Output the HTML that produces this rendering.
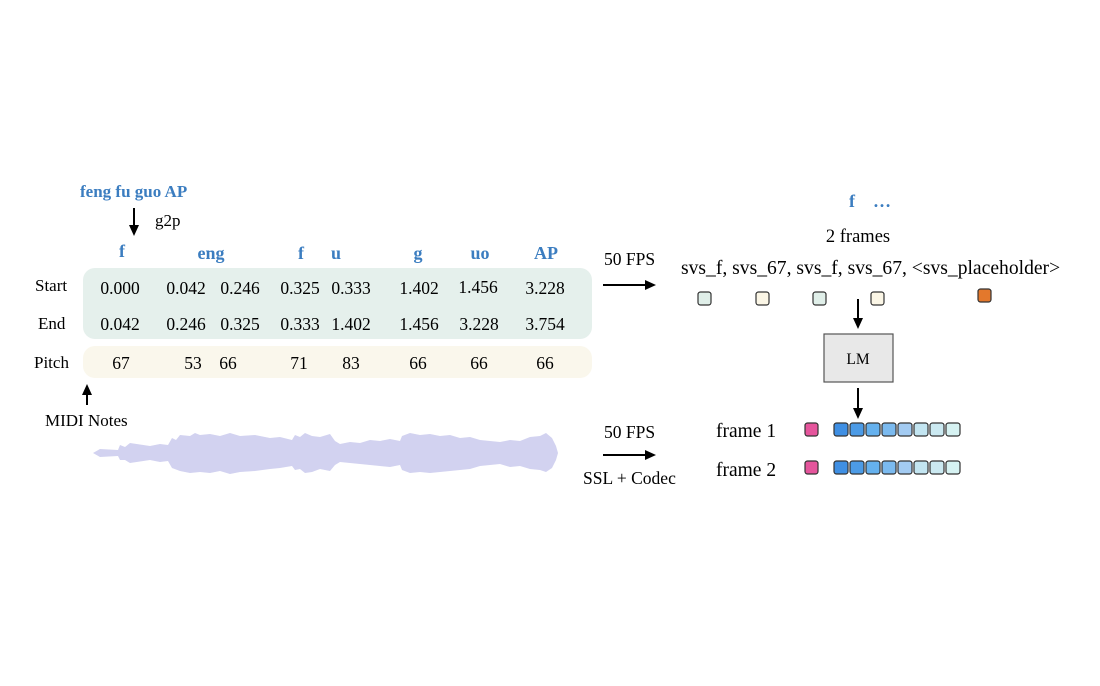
<!DOCTYPE html>
<html><head><meta charset="utf-8"><style>
html,body{margin:0;padding:0;background:#fff;}
svg{display:block;}
text{font-family:"Liberation Serif",serif;}
</style></head><body>
<svg width="1100" height="686" viewBox="0 0 1100 686" xmlns="http://www.w3.org/2000/svg">
<defs>
<marker id="ah" markerWidth="11" markerHeight="10" refX="8" refY="5" orient="auto" markerUnits="userSpaceOnUse">
<path d="M0,0 L11,5 L0,10 z" fill="#000"/></marker>
</defs>
<rect width="1100" height="686" fill="#fff"/>

<text x="80" y="197" font-size="17" font-weight="bold" fill="#3b7dc0">feng fu guo AP</text>
<line x1="134" y1="208" x2="134" y2="233" stroke="#000" stroke-width="2" marker-end="url(#ah)"/>
<text x="155" y="226" font-size="17">g2p</text>

<g font-size="18" font-weight="bold" fill="#3b7dc0" text-anchor="middle">
<text x="122" y="257">f</text><text x="211" y="259">eng</text><text x="301" y="259">f</text>
<text x="336" y="259">u</text><text x="418" y="259">g</text><text x="480" y="259">uo</text><text x="546" y="259">AP</text>
</g>

<rect x="83" y="268" width="509" height="71" rx="12" fill="#e5f0ec"/>
<rect x="83" y="346" width="509" height="32" rx="12" fill="#faf7ec"/>

<g font-size="17">
<text x="35" y="291">Start</text><text x="38" y="329">End</text><text x="34" y="368">Pitch</text>
</g>
<g font-size="17.5" text-anchor="middle">
<text x="120" y="294">0.000</text><text x="186" y="294">0.042</text><text x="240" y="294">0.246</text>
<text x="300" y="294">0.325</text><text x="351" y="294">0.333</text><text x="419" y="294">1.402</text>
<text x="478" y="293">1.456</text><text x="545" y="294">3.228</text>
<text x="120" y="330">0.042</text><text x="186" y="330">0.246</text><text x="240" y="330">0.325</text>
<text x="300" y="330">0.333</text><text x="351" y="330">1.402</text><text x="419" y="330">1.456</text>
<text x="479" y="330">3.228</text><text x="545" y="330">3.754</text>
<text x="121" y="369">67</text><text x="193" y="369">53</text><text x="228" y="369">66</text>
<text x="299" y="369">71</text><text x="351" y="369">83</text><text x="418" y="369">66</text>
<text x="479" y="369">66</text><text x="545" y="369">66</text>
</g>

<line x1="87" y1="405" x2="87" y2="387" stroke="#000" stroke-width="2" marker-end="url(#ah)"/>
<text x="45" y="426" font-size="17">MIDI Notes</text>

<path fill="#d2d2f0" d="M93,453 L100,449 L118,450 L120,445 L125,447 L130,443 L150,446 L160,444 L168,445 L172,438 L176,440 L180,435 L190,436 L195,433 L200,435 L210,434 L220,436 L230,433 L240,436 L255,435 L270,438 L280,437 L292,440 L295,435 L300,437 L305,433 L312,436 L320,437 L330,434 L335,441 L340,444 L350,442 L360,443 L370,440 L380,441 L390,439 L400,441 L402,436 L410,433 L420,435 L430,434 L440,436 L450,435 L460,438 L470,437 L480,440 L490,441 L500,442 L510,440 L520,441 L530,437 L540,436 L546,433 L552,438 L556,446 L558,453 L556,460 L552,468 L546,472 L540,470 L530,469 L520,466 L510,467 L500,464 L490,465 L480,466 L470,469 L460,470 L450,471 L440,472 L430,473 L420,472 L410,473 L402,470 L400,465 L390,467 L380,466 L370,465 L360,464 L350,463 L340,462 L335,465 L330,471 L320,469 L312,472 L305,473 L300,469 L295,470 L292,466 L280,468 L270,469 L255,471 L240,472 L230,474 L220,471 L210,473 L200,472 L190,473 L180,471 L172,468 L168,461 L160,462 L150,460 L130,463 L125,460 L120,460 L118,456 L100,457 Z"/>

<text x="604" y="265" font-size="17.5">50 FPS</text>
<line x1="603" y1="285" x2="653" y2="285" stroke="#000" stroke-width="2" marker-end="url(#ah)"/>
<text x="604" y="438" font-size="17.5">50 FPS</text>
<line x1="603" y1="455" x2="653" y2="455" stroke="#000" stroke-width="2" marker-end="url(#ah)"/>
<text x="583" y="484" font-size="17.5">SSL + Codec</text>

<text x="849" y="207" font-size="18" font-weight="bold" fill="#3b7dc0">f</text>
<text x="873" y="207" font-size="18" font-weight="bold" fill="#3b7dc0">…</text>
<text x="858" y="242" font-size="18.5" text-anchor="middle">2 frames</text>
<text x="681" y="274" font-size="19.6">svs_f, svs_67, svs_f, svs_67, &lt;svs_placeholder&gt;</text>

<g stroke="#333" stroke-width="1.2">
<rect x="698" y="292" width="13" height="13" rx="2.5" fill="#e0efe9"/>
<rect x="756" y="292" width="13" height="13" rx="2.5" fill="#fbf6e6"/>
<rect x="813" y="292" width="13" height="13" rx="2.5" fill="#e0efe9"/>
<rect x="871" y="292" width="13" height="13" rx="2.5" fill="#fbf6e6"/>
<rect x="978" y="289" width="13" height="13" rx="2.5" fill="#e3782c"/>
</g>
<line x1="858" y1="299" x2="858" y2="326" stroke="#000" stroke-width="2" marker-end="url(#ah)"/>
<rect x="824" y="334" width="69" height="48" fill="#e8e8e8" stroke="#555" stroke-width="1.2"/>
<text x="858" y="364" font-size="15.5" text-anchor="middle">LM</text>
<line x1="858" y1="388" x2="858" y2="416" stroke="#000" stroke-width="2" marker-end="url(#ah)"/>

<text x="716" y="437" font-size="19.5">frame 1</text>
<text x="716" y="476" font-size="19.5">frame 2</text>
<g stroke="#333" stroke-width="1.2">
<rect x="805" y="423" width="13" height="13" rx="2.5" fill="#e5559c"/>
<rect x="805" y="461" width="13" height="13" rx="2.5" fill="#e5559c"/>
<g id="row">
<rect x="834" y="423" width="14" height="13" rx="2.5" fill="#3f8fe3"/>
<rect x="850" y="423" width="14" height="13" rx="2.5" fill="#4c9be6"/>
<rect x="866" y="423" width="14" height="13" rx="2.5" fill="#65b1ee"/>
<rect x="882" y="423" width="14" height="13" rx="2.5" fill="#7bbaef"/>
<rect x="898" y="423" width="14" height="13" rx="2.5" fill="#a3cbf2"/>
<rect x="914" y="423" width="14" height="13" rx="2.5" fill="#c3e5f1"/>
<rect x="930" y="423" width="14" height="13" rx="2.5" fill="#cbe9f1"/>
<rect x="946" y="423" width="14" height="13" rx="2.5" fill="#d6f2f2"/>
</g>
<use href="#row" y="38"/>
</g>
</svg>
</body></html>
